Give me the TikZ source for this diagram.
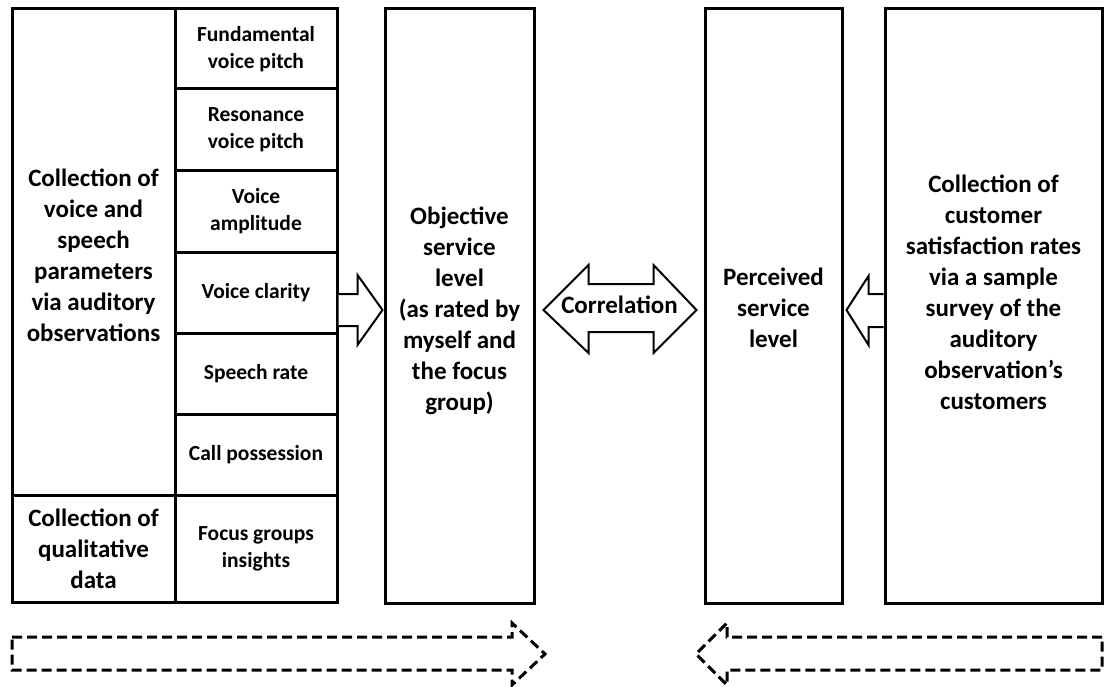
\documentclass[tikz,border=0pt]{standalone}
\usepackage{fontspec}
\setmainfont{Carlito}
\usetikzlibrary{calc}
\begin{document}
\begin{tikzpicture}[x=1pt,y=-1pt,
  cell/.style={draw,line width=3pt,inner sep=0pt,align=center,font=\bfseries\fontsize{21.5}{27}\selectfont},
  bigcell/.style={cell,font=\bfseries\fontsize{25}{31}\selectfont},
  txt/.style={inner sep=0pt,align=center,font=\bfseries\fontsize{25}{31}\selectfont},
  barrow/.style={draw,line width=2pt,line join=miter,fill=white},
  darrow/.style={draw,line width=3pt,dash pattern=on 10pt off 5pt,line join=miter}]
\useasboundingbox (0,0) rectangle (1105,687);
% left block
\node[cell,minimum width=163,minimum height=486] (a1) at (93.5,252) {};
\node[txt] (a1t) at ($(a1.center)+(0,3)$) {Collection of\\voice and\\speech\\parameters\\via auditory\\observations};
\node[bigcell,minimum width=163,minimum height=107] (a2) at (93.5,548.5) {Collection of\\qualitative\\data};
\node[cell,minimum width=162,minimum height=80] (c1) at (256,49) {Fundamental\\voice pitch};
\node[cell,minimum width=162,minimum height=82] (c2) at (256,130) {Resonance\\voice pitch};
\node[cell,minimum width=162,minimum height=81] (c3) at (256,211.5) {Voice\\amplitude};
\node[cell,minimum width=162,minimum height=81] (c4) at (256,292.5) {Voice clarity};
\node[cell,minimum width=162,minimum height=81] (c5) at (256,373.5) {Speech rate};
\node[cell,minimum width=162,minimum height=81] (c6) at (256,454.5) {Call possession};
\node[cell,minimum width=162,minimum height=107] (c7) at (256,548.5) {Focus groups\\insights};
% right boxes
\node[cell,minimum width=149,minimum height=594] (obj) at (459.5,306) {};
\node[txt] (objt) at ($(obj.center)+(0,5)$) {Objective\\service\\level\\(as rated by\\myself and\\the focus\\group)};
\node[cell,minimum width=137,minimum height=594] (perc) at (773.5,306) {};
\node[txt] (perct) at ($(perc.center)+(0,2)$) {Perceived\\service\\level};
\node[cell,minimum width=217,minimum height=594] (cust) at (993.5,306) {};
\node[txt] (custt) at ($(cust.center)+(0,-14)$) {Collection of\\customer\\satisfaction rates\\via a sample\\survey of the\\auditory\\observation’s\\customers};
% block arrow: voice clarity -> objective
\draw[barrow] (c4.east |- 0,294) -- ($(obj.west |- 0,294)+(-26,0)$) -- ($(obj.west |- 0,275)+(-26,0)$)
  -- ($(obj.west |- 0,310)+(-1,0)$) -- ($(obj.west |- 0,345)+(-26,0)$) -- ($(obj.west |- 0,326)+(-26,0)$)
  -- (c4.east |- 0,326);
% correlation double arrow
\draw[barrow] ($(obj.east |- 0,310)+(8,0)$) -- ($(obj.east |- 0,265)+(53,0)$) -- ($(obj.east |- 0,284)+(53,0)$)
  -- ($(perc.west |- 0,284)+(-50,0)$) -- ($(perc.west |- 0,265)+(-50,0)$) -- ($(perc.west |- 0,310)+(-7,0)$)
  -- ($(perc.west |- 0,353)+(-50,0)$) -- ($(perc.west |- 0,332)+(-50,0)$) -- ($(obj.east |- 0,332)+(53,0)$)
  -- ($(obj.east |- 0,353)+(53,0)$) -- cycle;
\node[txt] (corr) at ($(obj.east)!0.5!(perc.west)+(0,-1)$) {Correlation};
% block arrow: customer -> perceived
\draw[barrow] (cust.west |- 0,294) -- ($(perc.east |- 0,294)+(25,0)$) -- ($(perc.east |- 0,276)+(25,0)$)
  -- ($(perc.east |- 0,310)+(3,0)$) -- ($(perc.east |- 0,345)+(25,0)$) -- ($(perc.east |- 0,327)+(25,0)$)
  -- (cust.west |- 0,327);
% dashed arrows
\draw[darrow] (12,637) -- (512,637) -- (512,623) -- (545,654) -- (512,685) -- (512,670) -- (12,670) -- cycle;
\draw[darrow] (1102,637) -- (727,637) -- (727,623) -- (696,654) -- (727,685) -- (727,670) -- (1102,670) -- cycle;
\end{tikzpicture}
\end{document}
